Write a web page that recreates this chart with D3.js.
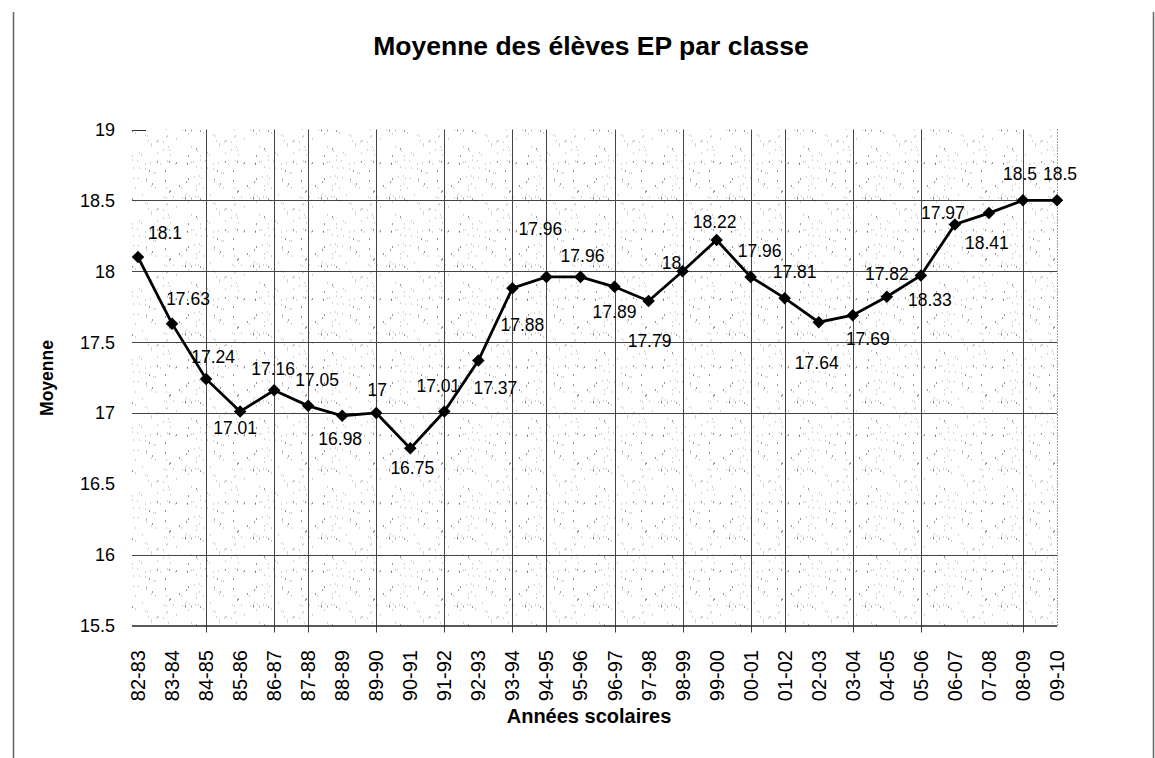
<!DOCTYPE html>
<html>
<head>
<meta charset="utf-8">
<script src="https://cdn.jsdelivr.net/npm/d3@7"></script>
<style>
	body { margin: 0; background: #fff; }
	svg { display: block; font-family: Arial, "Liberation Sans", sans-serif; }
</style>
</head>
<body>
<div id="chart"></div>
<script>
// our data
const years = ['82-83', '83-84', '84-85', '85-86', '86-87', '87-88', '88-89', '89-90', '90-91', '91-92',
	'92-93', '93-94', '94-95', '95-96', '96-97', '97-98', '98-99', '99-00', '00-01', '01-02',
	'02-03', '03-04', '04-05', '05-06', '06-07', '07-08', '08-09', '09-10']
const moyenne = [18.1, 17.63, 17.24, 17.01, 17.16, 17.05, 16.98, 17, 16.75, 17.01,
	17.37, 17.88, 17.96, 17.96, 17.89, 17.79, 18, 18.22, 17.96, 17.81,
	17.64, 17.69, 17.82, 17.97, 18.33, 18.41, 18.5, 18.5]
const yTicks = [15.5, 16, 16.5, 17, 17.5, 18, 18.5, 19]
const yGrid = [16, 17, 17.5, 18, 18.5] // the lines that actually show in the original
const xGrid = ['84-85', '86-87', '87-88', '89-90', '91-92', '93-94', '94-95', '96-97',
	'98-99', '00-01', '01-02', '03-04', '05-06', '08-09']

const title = 'Moyenne des élèves EP par classe'
const yTitle = 'Moyenne'
const xTitle = 'Années scolaires'

// where each value label sits relative to its point (dx, dy)
const labelOffsets = [[27, -24], [16, -25], [7, -22], [-5, 16], [-1, -22], [9, -26], [-2, 23], [1, -23],
	[2, 19], [-6, -26], [17, 27], [10, 36], [-6, -48], [2, -21], [0, 25], [1, 40], [-11, -9],
	[-2, -18], [9, -26], [10, -26], [-2, 40], [15, 24], [0, -23], [22, -63], [-25, 75],
	[-2, 30], [-3, -27], [3, -27]]

const width = 1155
const height = 758
const plot = {left: 132, right: 1057, top: 129.5, bottom: 625.5}

const $svg = d3.select('#chart')
	.append('svg')
	.attr('width', width)
	.attr('height', height)

// speckled fill, like the old spreadsheet texture
let seed = 11
const rnd = () => (seed = (seed * 16807) % 2147483647) / 2147483647
const tile = 68
const $pattern = $svg.append('defs')
	.append('pattern')
	.attr('id', 'speckle')
	.attr('patternUnits', 'userSpaceOnUse')
	.attr('width', tile)
	.attr('height', tile)
	.attr('x', plot.left)
	.attr('y', plot.top)
$pattern.append('rect').attr('width', tile).attr('height', tile).attr('fill', '#fff')
d3.range(85).forEach(() => {
	$pattern.append('rect')
		.attr('x', Math.floor(rnd() * tile))
		.attr('y', Math.floor(rnd() * tile))
		.attr('width', 1)
		.attr('height', 1)
		.attr('fill', rnd() < 0.3 ? '#333' : '#a8a8a8')
})

// scales
const x = d3.scalePoint()
	.domain(years)
	.range([138, plot.right])

const y = d3.scaleLinear()
	.domain([15.5, 19])
	.range([plot.bottom, plot.top])

// outer frame bits
$svg.append('line').attr('x1', 13.5).attr('x2', 13.5).attr('y1', 12).attr('y2', height)
	.attr('stroke', '#666').attr('stroke-width', 1.5)
$svg.append('line').attr('x1', 1153.5).attr('x2', 1153.5).attr('y1', 12).attr('y2', height)
	.attr('stroke', '#666').attr('stroke-width', 1.5)

// plot background
$svg.append('rect')
	.attr('x', plot.left)
	.attr('y', plot.top)
	.attr('width', plot.right - plot.left)
	.attr('height', plot.bottom - plot.top)
	.attr('fill', 'url(#speckle)')

// right edge is dotted
$svg.append('line')
	.attr('x1', plot.right + 0.5).attr('x2', plot.right + 0.5)
	.attr('y1', plot.top).attr('y2', plot.bottom)
	.attr('stroke', '#444')
	.attr('stroke-dasharray', '1,2')

// gridlines
$svg.append('g')
	.selectAll('line')
	.data(yGrid)
	.join('line')
		.attr('x1', plot.left)
		.attr('x2', plot.right)
		.attr('y1', d => Math.round(y(d)) + 0.5)
		.attr('y2', d => Math.round(y(d)) + 0.5)
		.attr('stroke', '#444')

$svg.append('g')
	.selectAll('line')
	.data(xGrid)
	.join('line')
		.attr('x1', d => Math.round(x(d)) + 0.5)
		.attr('x2', d => Math.round(x(d)) + 0.5)
		.attr('y1', plot.top)
		.attr('y2', plot.bottom + 7)
		.attr('stroke', '#444')

// x axis line
$svg.append('line')
	.attr('x1', plot.left).attr('x2', plot.right)
	.attr('y1', plot.bottom + 0.5).attr('y2', plot.bottom + 0.5)
	.attr('stroke', '#222')
	.attr('stroke-width', 1.5)

// little tick at the top
$svg.append('line')
	.attr('x1', plot.left).attr('x2', plot.left + 14)
	.attr('y1', Math.round(y(19)) + 0.5).attr('y2', Math.round(y(19)) + 0.5)
	.attr('stroke', '#333')

// y labels
$svg.append('g')
	.selectAll('text')
	.data(yTicks)
	.join('text')
		.attr('x', 115)
		.attr('y', d => y(d))
		.attr('dy', '0.36em')
		.attr('text-anchor', 'end')
		.attr('font-size', 18)
		.text(d => d)

// x labels, turned
$svg.append('g')
	.selectAll('text')
	.data(years)
	.join('text')
		.attr('transform', d => `translate(${x(d) + 7}, 650) rotate(-90)`)
		.attr('text-anchor', 'end')
		.attr('font-size', 20)
		.text(d => d)

// the line
$svg.append('path')
	.datum(moyenne)
	.attr('d', d3.line().x((d, i) => x(years[i])).y(d => y(d)))
	.attr('fill', 'none')
	.attr('stroke', '#000')
	.attr('stroke-width', 2.8)

// markers
$svg.append('g')
	.selectAll('path')
	.data(moyenne)
	.join('path')
		.attr('transform', (d, i) => `translate(${x(years[i])}, ${y(d)})`)
		.attr('d', d3.symbol(d3.symbolDiamond2, 100))
		.attr('fill', '#000')

// value labels
$svg.append('g')
	.selectAll('text')
	.data(moyenne)
	.join('text')
		.attr('x', (d, i) => x(years[i]) + labelOffsets[i][0])
		.attr('y', (d, i) => y(d) + labelOffsets[i][1])
		.attr('dy', '0.36em')
		.attr('text-anchor', 'middle')
		.attr('font-size', 17.5)
		.text(d => d)

// titles
$svg.append('text')
	.attr('x', 591)
	.attr('y', 55)
	.attr('text-anchor', 'middle')
	.attr('font-size', 26.5)
	.attr('font-weight', 'bold')
	.text(title)

$svg.append('text')
	.attr('x', 589)
	.attr('y', 723)
	.attr('text-anchor', 'middle')
	.attr('font-size', 20)
	.attr('font-weight', 'bold')
	.text(xTitle)

$svg.append('text')
	.attr('transform', 'translate(53, 378) rotate(-90)')
	.attr('text-anchor', 'middle')
	.attr('font-size', 17.5)
	.attr('font-weight', 'bold')
	.text(yTitle)
</script>
</body>
</html>
